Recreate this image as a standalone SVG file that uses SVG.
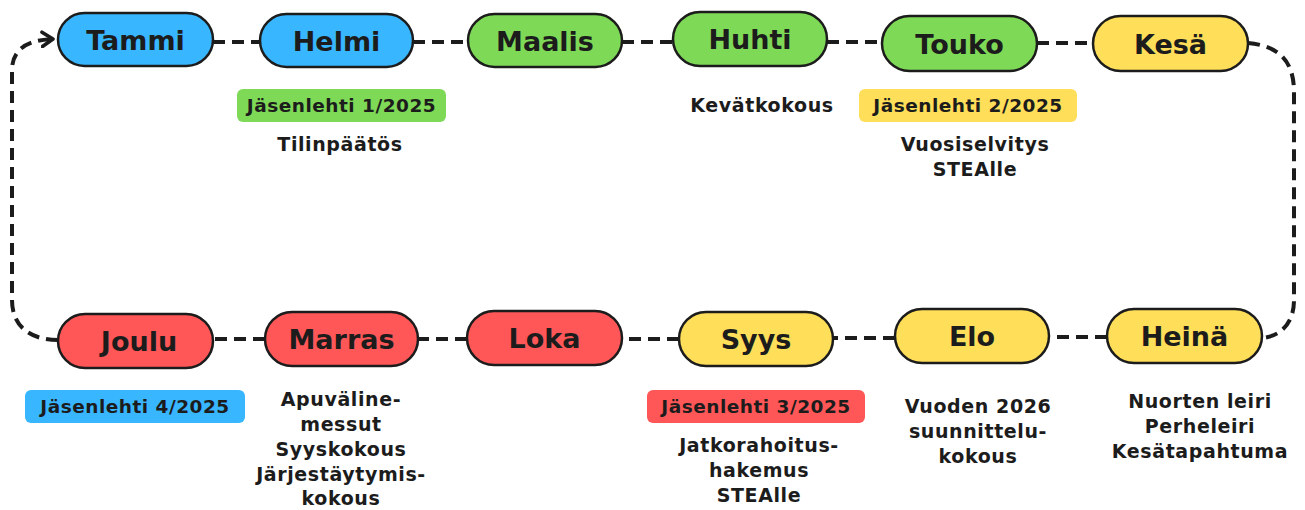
<svg xmlns="http://www.w3.org/2000/svg" width="1305" height="510" viewBox="0 0 1305 510">
<style>
.node{stroke:#1c1c1c;stroke-width:2.5}
.blue{fill:#38b6ff}.green{fill:#7ed957}.yellow{fill:#ffde59}.red{fill:#ff5757}
.lbl{font-family:"DejaVu Sans","Liberation Sans",sans-serif;font-weight:700;font-size:27px;fill:#1c1c1c;text-anchor:middle}
.sub{font-family:"DejaVu Sans","Liberation Sans",sans-serif;font-weight:700;font-size:19px;letter-spacing:0.6px;fill:#1c1c1c;text-anchor:middle}
.badge{font-size:18.5px;letter-spacing:0.5px}
.conn{fill:none;stroke:#1c1c1c;stroke-width:4;stroke-dasharray:12 7}
</style>
<defs>
<marker id="arr" viewBox="0 0 10 10" refX="7" refY="5" markerWidth="4.5" markerHeight="4.5" orient="auto" markerUnits="strokeWidth">
<path d="M1 1 L7 5 L1 9" fill="none" stroke="#1c1c1c" stroke-width="2" stroke-linecap="round" stroke-linejoin="round"/>
</marker>
</defs>
<g id="connectors">
<path class="conn" d="M213 42 H260"/>
<path class="conn" d="M413 42 H468"/>
<path class="conn" d="M622 42 H673"/>
<path class="conn" d="M827 42 H882"/>
<path class="conn" d="M1037 43 H1093"/>
<path class="conn" d="M1248 43 C1280 46 1294 62 1294 92 V300 C1294 322 1282 336 1262 338"/>
<path class="conn" d="M1107 337 H1049"/>
<path class="conn" d="M895 338 H833"/>
<path class="conn" d="M679 339 H622"/>
<path class="conn" d="M467 339 H418"/>
<path class="conn" d="M265 339 H213"/>
<path class="conn" d="M58 340 C30 340 12 326 12 300 V70 C12 52 24 40 53 39" marker-end="url(#arr)"/>
</g>
<g id="tammi"><rect class="node blue" x="58" y="13" width="155" height="53" rx="26.5"/><text class="lbl" x="135.5" y="50">Tammi</text></g>
<g id="helmi"><rect class="node blue" x="260" y="14" width="153" height="53" rx="26.5"/><text class="lbl" x="336.5" y="51">Helmi</text>
<rect class="green" x="237" y="89" width="209" height="33" rx="6"/><text class="sub badge" x="341.5" y="112">Jäsenlehti 1/2025</text>
<text class="sub" x="340" y="151">Tilinpäätös</text></g>
<g id="maalis"><rect class="node green" x="468" y="14" width="154" height="53" rx="26.5"/><text class="lbl" x="545" y="51">Maalis</text></g>
<g id="huhti"><rect class="node green" x="673" y="12" width="154" height="54" rx="27"/><text class="lbl" x="750" y="49">Huhti</text>
<text class="sub" x="762" y="112">Kevätkokous</text></g>
<g id="touko"><rect class="node green" x="882" y="16" width="155" height="55" rx="27.5"/><text class="lbl" x="959.5" y="54">Touko</text>
<rect class="yellow" x="859" y="89" width="218" height="33" rx="6"/><text class="sub badge" x="968" y="112">Jäsenlehti 2/2025</text>
<text class="sub" x="975" y="151">Vuosiselvitys</text><text class="sub" x="975" y="176">STEAlle</text></g>
<g id="kesa"><rect class="node yellow" x="1093" y="16" width="155" height="55" rx="27.5"/><text class="lbl" x="1170.5" y="54">Kesä</text></g>
<g id="heina"><rect class="node yellow" x="1107" y="309" width="155" height="54" rx="27"/><text class="lbl" x="1184.5" y="346">Heinä</text>
<text class="sub" x="1200" y="408">Nuorten leiri</text><text class="sub" x="1200" y="433">Perheleiri</text><text class="sub" x="1200" y="458">Kesätapahtuma</text></g>
<g id="elo"><rect class="node yellow" x="895" y="309" width="154" height="54" rx="27"/><text class="lbl" x="972" y="346">Elo</text>
<text class="sub" x="978" y="413">Vuoden 2026</text><text class="sub" x="978" y="438">suunnittelu-</text><text class="sub" x="978" y="463">kokous</text></g>
<g id="syys"><rect class="node yellow" x="679" y="312" width="154" height="54" rx="27"/><text class="lbl" x="756" y="349">Syys</text>
<rect class="red" x="647" y="390" width="218" height="33" rx="6"/><text class="sub badge" x="756" y="413">Jäsenlehti 3/2025</text>
<text class="sub" x="759" y="452">Jatkorahoitus-</text><text class="sub" x="759" y="477">hakemus</text><text class="sub" x="759" y="502">STEAlle</text></g>
<g id="loka"><rect class="node red" x="467" y="311" width="155" height="54" rx="27"/><text class="lbl" x="544.5" y="348">Loka</text></g>
<g id="marras"><rect class="node red" x="265" y="312" width="153" height="54" rx="27"/><text class="lbl" x="341.5" y="349">Marras</text>
<text class="sub" x="341" y="406">Apuväline-</text><text class="sub" x="341" y="431">messut</text><text class="sub" x="341" y="456">Syyskokous</text><text class="sub" x="341" y="481">Järjestäytymis-</text><text class="sub" x="341" y="505">kokous</text></g>
<g id="joulu"><rect class="node red" x="58" y="314" width="155" height="54" rx="27"/><text class="lbl" x="139" y="351">Joulu</text>
<rect class="blue" x="25" y="390" width="220" height="33" rx="6"/><text class="sub badge" x="135" y="413">Jäsenlehti 4/2025</text></g>
</svg>
